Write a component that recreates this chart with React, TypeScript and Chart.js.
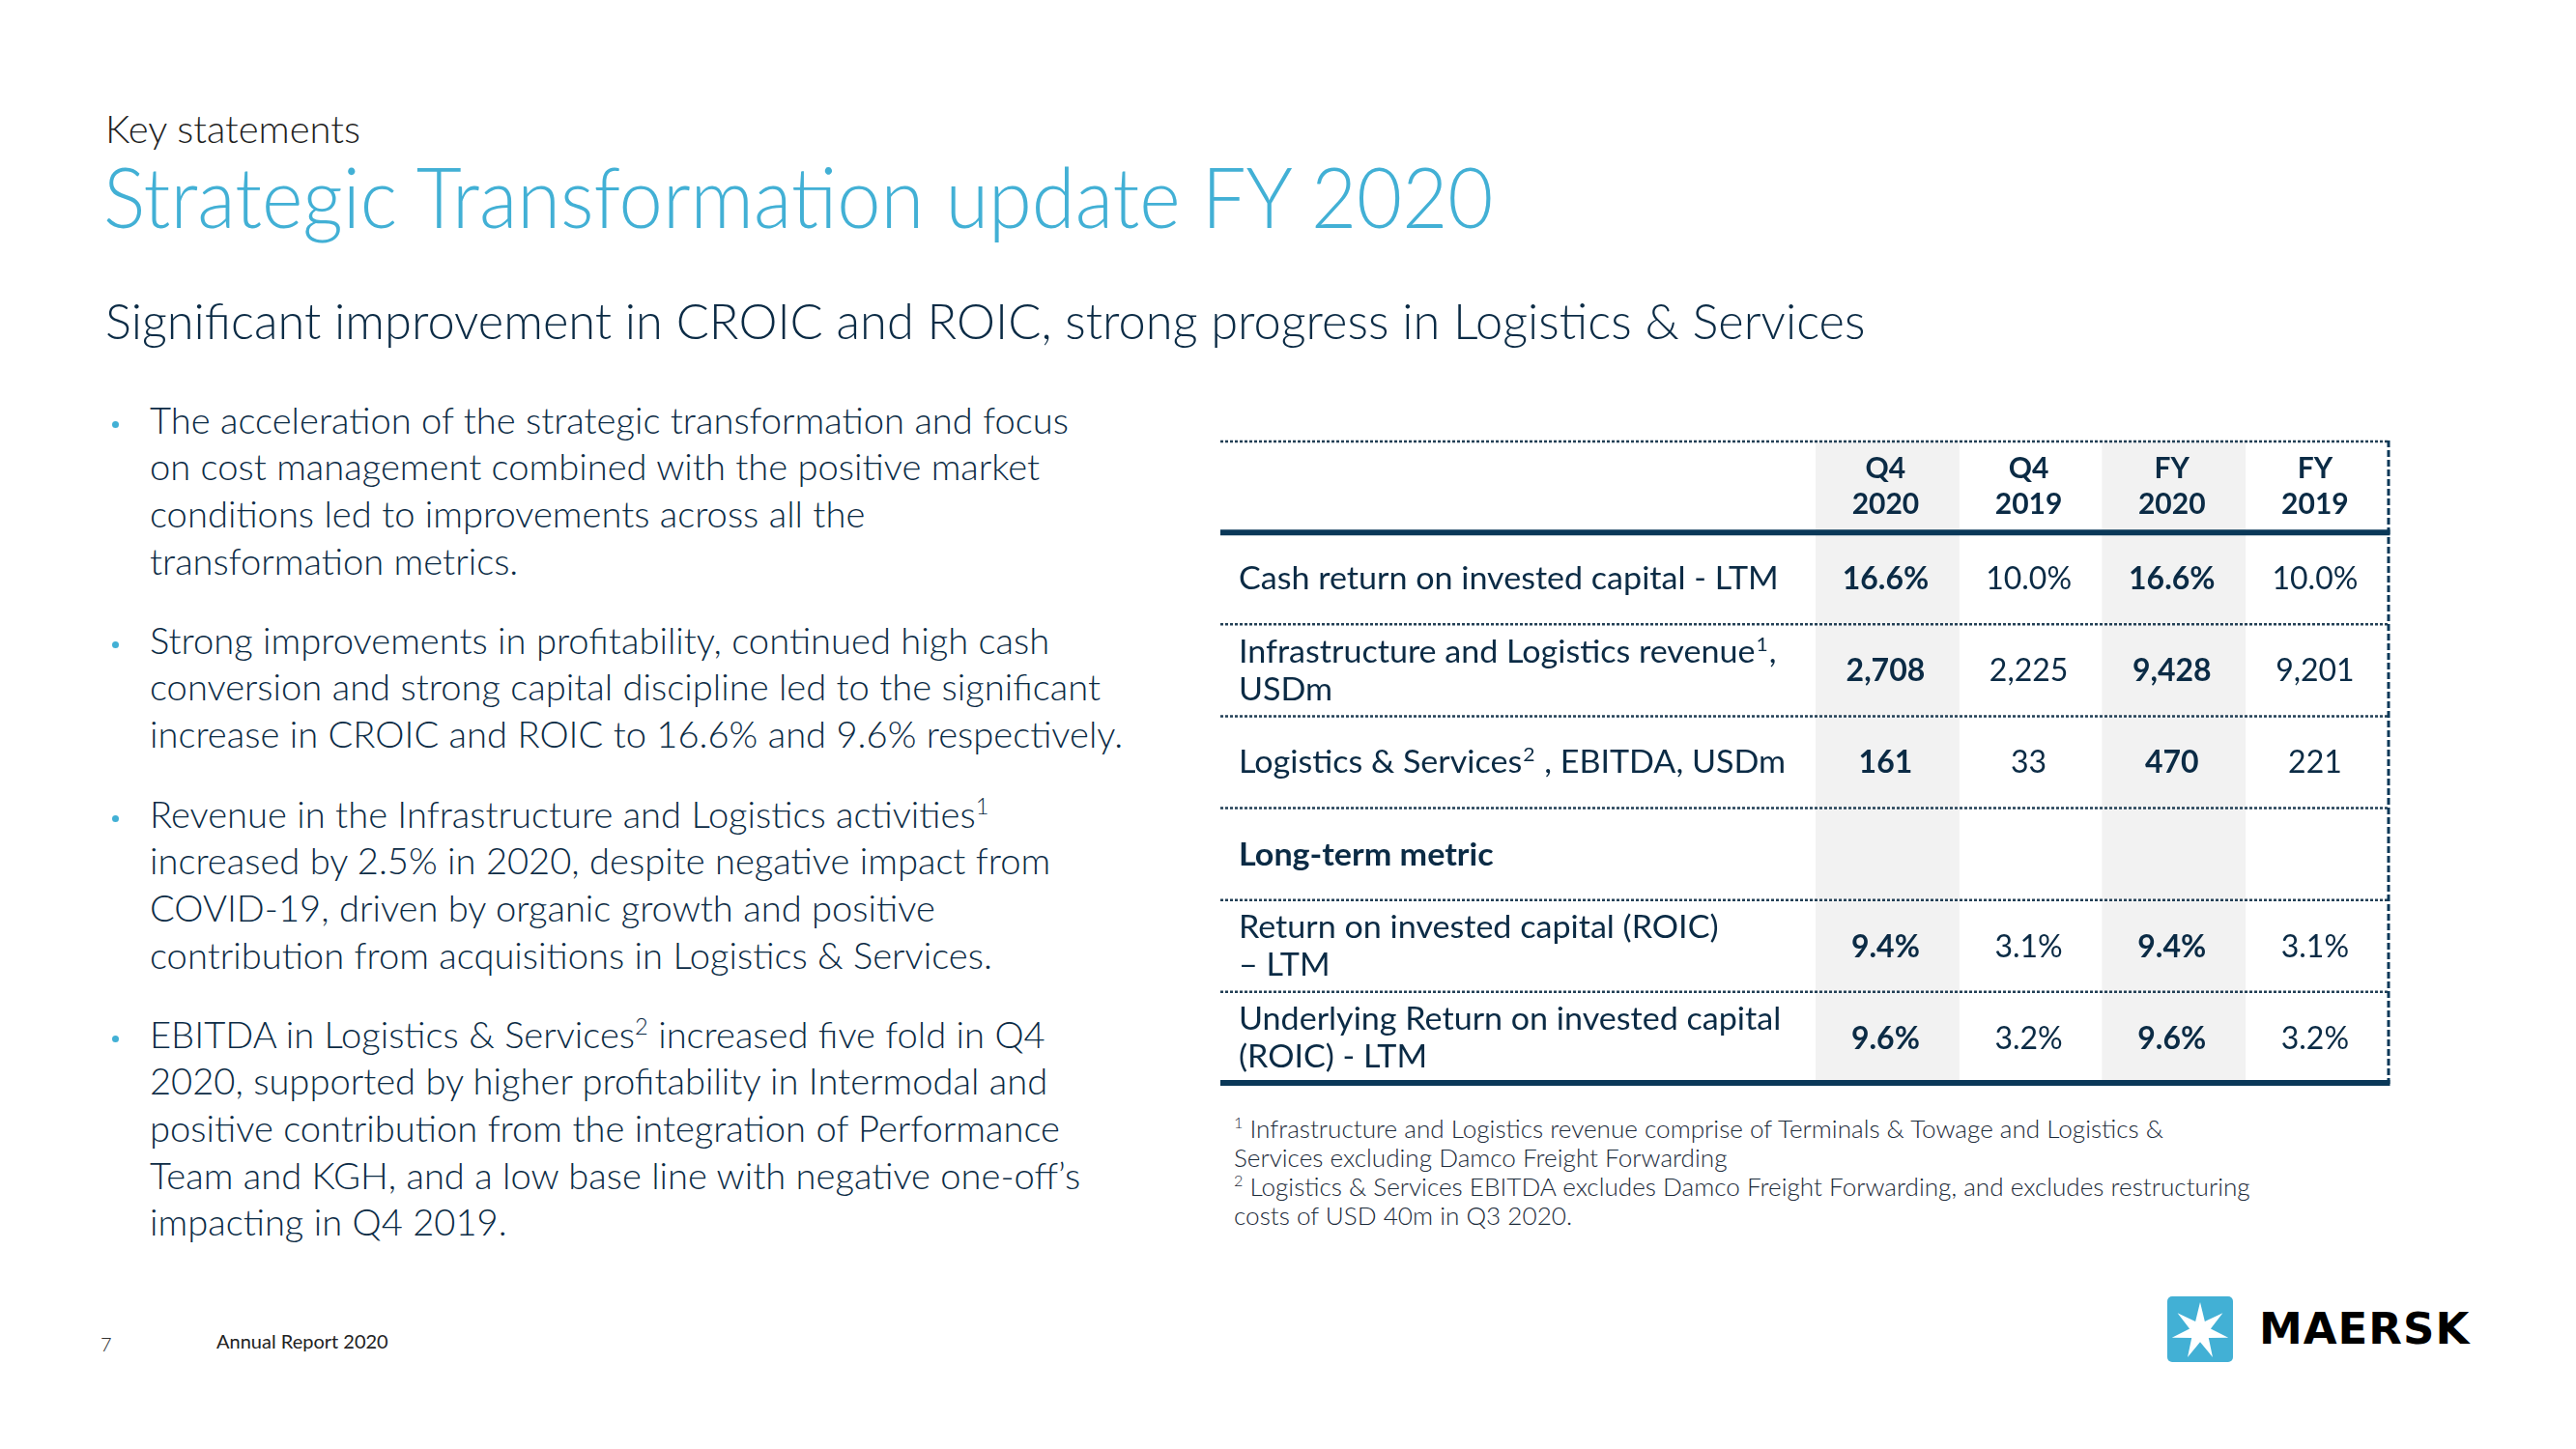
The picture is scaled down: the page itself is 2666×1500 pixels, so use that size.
import React, { useEffect, useRef } from "react";
import { Chart, registerables } from "chart.js";

Chart.register(...registerables);

// ---------- data ----------
const columnPeriods = ["Q4", "Q4", "FY", "FY"];
const columnYears = ["2020", "2019", "2020", "2019"];
const highlightedColumns = [true, false, true, false];

const rowLabels = [
  ["Cash return on invested capital - LTM"],
  ["Infrastructure and Logistics revenue^1,", "USDm"],
  ["Logistics & Services^2 , EBITDA, USDm"],
  ["Long-term metric"],
  ["Return on invested capital (ROIC)", "– LTM"],
  ["Underlying Return on invested capital", "(ROIC) - LTM"],
];
const rowIsSection = [false, false, false, true, false, false];
const rowUnits = ["pct", "usd", "usd", "", "pct", "pct"];

const valuesQ4_2020 = [16.6, 2708, 161, null, 9.4, 9.6];
const valuesQ4_2019 = [10.0, 2225, 33, null, 3.1, 3.2];
const valuesFY_2020 = [16.6, 9428, 470, null, 9.4, 9.6];
const valuesFY_2019 = [10.0, 9201, 221, null, 3.1, 3.2];
const columnValues = [valuesQ4_2020, valuesQ4_2019, valuesFY_2020, valuesFY_2019];

const bullets = [
  [
    "The acceleration of the strategic transformation and focus",
    "on cost management combined with the positive market",
    "conditions led to improvements across all the",
    "transformation metrics.",
  ],
  [
    "Strong improvements in profitability, continued high cash",
    "conversion and strong capital discipline led to the significant",
    "increase in CROIC and ROIC to 16.6% and 9.6% respectively.",
  ],
  [
    "Revenue in the Infrastructure and Logistics activities^1",
    "increased by 2.5% in 2020, despite negative impact from",
    "COVID-19, driven by organic growth and positive",
    "contribution from acquisitions in Logistics & Services.",
  ],
  [
    "EBITDA in Logistics & Services^2 increased five fold in Q4",
    "2020, supported by higher profitability in Intermodal and",
    "positive contribution from the integration of Performance",
    "Team and KGH, and a low base line with negative one-off’s",
    "impacting in Q4 2019.",
  ],
];

const footnotes = [
  "^1 Infrastructure and Logistics revenue comprise of Terminals & Towage and Logistics &",
  "Services excluding Damco Freight Forwarding",
  "^2 Logistics & Services EBITDA excludes Damco Freight Forwarding, and excludes restructuring",
  "costs of USD 40m in Q3 2020.",
];

// ---------- styles ----------
const FONT = "Lato, 'Open Sans', sans-serif";
const NAVY = "#0b2b45";
const LINE_NAVY = "#0a3858";
const BLUE = "#42b0d5";
const SHADE = "#f2f2f2";

function fmt(v: number | null, unit: string) {
  if (v == null) return "";
  if (unit === "pct") return v.toFixed(1) + "%";
  return v.toLocaleString("en-US");
}

function drawRich(ctx: CanvasRenderingContext2D, text: string, x: number, y: number, size: number, weight: number) {
  const parts = text.split(/\^(\d)/);
  let cx = x;
  parts.forEach((p, i) => {
    if (!p) return;
    if (i % 2 === 1) {
      ctx.font = `${weight} ${size * 0.62}px ${FONT}`;
      ctx.fillText(p, cx + 1, y - size * 0.38);
      cx += ctx.measureText(p).width + 2;
    } else {
      ctx.font = `${weight} ${size}px ${FONT}`;
      ctx.fillText(p, cx, y);
      cx += ctx.measureText(p).width;
    }
  });
}

function rich(text: string) {
  const parts = text.split(/\^(\d)/);
  return parts.map((p, i) =>
    i % 2 === 1 ? (
      <span key={i} style={{ fontSize: "0.62em", position: "relative", top: "-0.62em", lineHeight: 0 }}>
        {p}
      </span>
    ) : (
      <span key={i}>{p}</span>
    )
  );
}

const LABEL_SIZE = 32;
const LABEL_STRETCH = 1.065;
const VALUE_SIZE = 32;

const tablePlugin = {
  id: "tableDecor",
  afterDatasetsDraw(chart: any) {
    const { ctx, chartArea: a, scales } = chart;
    const x = scales.x;
    const y = scales.y;
    const nRows = y.getLabels().length;
    const band = y.getPixelForValue(1) - y.getPixelForValue(0);
    const boundary = (i: number) => y.getPixelForValue(i) - band / 2;

    ctx.save();
    const dotted = (yy: number) => {
      ctx.beginPath();
      ctx.setLineDash([3, 2]);
      ctx.lineWidth = 2.5;
      ctx.strokeStyle = "#223f55";
      ctx.moveTo(a.left, yy);
      ctx.lineTo(a.right, yy);
      ctx.stroke();
    };
    const thick = (yy: number) => {
      ctx.beginPath();
      ctx.setLineDash([]);
      ctx.lineWidth = 6;
      ctx.strokeStyle = LINE_NAVY;
      ctx.moveTo(a.left, yy);
      ctx.lineTo(a.right + 1.5, yy);
      ctx.stroke();
    };
    dotted(a.top + 1);
    for (let i = 2; i < nRows; i++) dotted(boundary(i));
    ctx.beginPath();
    ctx.setLineDash([7, 3]);
    ctx.lineWidth = 3;
    ctx.strokeStyle = LINE_NAVY;
    ctx.moveTo(a.right, a.top);
    ctx.lineTo(a.right, a.bottom);
    ctx.stroke();
    thick(boundary(1));
    thick(a.bottom - 1);

    // header
    ctx.fillStyle = NAVY;
    ctx.textAlign = "center";
    ctx.textBaseline = "alphabetic";
    const hs = 30;
    columnPeriods.forEach((p, c) => {
      const cx = x.getPixelForValue(c + 0.5);
      const cy = y.getPixelForValue(0);
      ctx.font = `700 ${hs}px ${FONT}`;
      ctx.fillText(p, cx - 2, cy - 19 + hs * 0.358);
      ctx.fillText(columnYears[c], cx - 2, cy + 18 + hs * 0.358);
    });

    // rows
    const labelX = x.getPixelForValue(x.min) + 19;
    rowLabels.forEach((lines, r) => {
      const cy = y.getPixelForValue(r + 1);
      ctx.textAlign = "left";
      const w = rowIsSection[r] ? 700 : 400;
      const gap = 39;
      ctx.save();
      ctx.translate(labelX, 0);
      ctx.scale(LABEL_STRETCH, 1);
      lines.forEach((line, li) => {
        const ly = cy + (li - (lines.length - 1) / 2) * gap + LABEL_SIZE * 0.358;
        drawRich(ctx, line, 0, ly, LABEL_SIZE, w);
      });
      ctx.restore();
      ctx.textAlign = "center";
      columnValues.forEach((vals, c) => {
        const txt = fmt(vals[r], rowUnits[r]);
        if (!txt) return;
        ctx.font = `${highlightedColumns[c] ? 700 : 400} ${VALUE_SIZE}px ${FONT}`;
        ctx.fillText(txt, x.getPixelForValue(c + 0.5) - 2, cy + VALUE_SIZE * 0.358);
      });
    });
    ctx.restore();
  },
};

function TableChart() {
  const ref = useRef<HTMLCanvasElement | null>(null);
  useEffect(() => {
    if (!ref.current) return;
    const rowKeys = ["header", ...rowLabels.map((_, i) => "row" + i)];
    const datasets = columnYears
      .map((_, c) => c)
      .filter((c) => highlightedColumns[c])
      .map((c) => ({
        label: columnPeriods[c] + " " + columnYears[c],
        data: rowKeys.map(() => [c, c + 1]),
        backgroundColor: SHADE,
        borderWidth: 0,
        barPercentage: 1,
        categoryPercentage: 1,
        grouped: false,
      }));
    const chart = new Chart(ref.current, {
      type: "bar",
      data: { labels: rowKeys, datasets: datasets as any },
      options: {
        indexAxis: "y",
        responsive: false,
        animation: false,
        events: [],
        layout: { padding: 4 },
        scales: {
          x: { type: "linear", min: -4.16, max: 4, display: false },
          y: { type: "category", display: false, offset: true },
        },
        plugins: { legend: { display: false }, tooltip: { enabled: false } },
      },
      plugins: [tablePlugin],
    });
    return () => chart.destroy();
  }, []);
  return (
    <canvas
      ref={ref}
      width={1217}
      height={674}
      style={{ position: "absolute", left: 1259, top: 452, width: 1217, height: 674 }}
    />
  );
}

function Line({ x, cy, size, lh, weight, color, children, sx }: any) {
  return (
    <div
      style={{
        position: "absolute",
        left: x,
        top: cy - lh / 2,
        fontSize: size,
        lineHeight: lh + "px",
        fontWeight: weight,
        color,
        whiteSpace: "pre",
        fontFamily: FONT,
        transform: sx ? `scaleX(${sx})` : undefined,
        transformOrigin: "left center",
      }}
    >
      {children}
    </div>
  );
}

function Star({ size }: { size: number }) {
  const c = size / 2;
  const R = size * 0.44;
  const r = size * 0.165;
  const pts: string[] = [];
  for (let k = 0; k < 14; k++) {
    const ang = -Math.PI / 2 + (k * Math.PI) / 7;
    const rad = k % 2 === 0 ? R : r;
    pts.push(`${(c + rad * Math.cos(ang)).toFixed(2)},${(c + 2 + rad * Math.sin(ang)).toFixed(2)}`);
  }
  return (
    <svg width={size} height={size} style={{ position: "absolute", left: 0, top: 0 }}>
      <rect x={0} y={0} width={size} height={size} rx={5} fill={BLUE} />
      <polygon points={pts.join(" ")} fill="#ffffff" />
    </svg>
  );
}

export default function App() {
  const bulletStarts = [435, 663, 843, 1071];
  const bulletLH = 48.6;
  const bulletSize = 36.5;
  return (
    <div
      style={{
        position: "fixed",
        left: 0,
        top: 0,
        width: 2666,
        height: 1500,
        background: "#ffffff",
        overflow: "hidden",
        fontFamily: FONT,
      }}
    >
      <Line x={109} cy={133} size={40} lh={56} weight={300} color="#1f1f1f">
        Key statements
      </Line>
      <Line x={107} cy={203} size={86} lh={110} weight={300} color={BLUE} sx={0.945}>
        Strategic Transformation update FY 2020
      </Line>
      <Line x={109} cy={331} size={52} lh={70} weight={300} color={NAVY} sx={0.973}>
        Significant improvement in CROIC and ROIC, strong progress in Logistics &amp; Services
      </Line>

      {bullets.map((lines, b) => (
        <div key={b}>
          <div
            style={{
              position: "absolute",
              left: 116,
              top: bulletStarts[b] + 1,
              width: 7,
              height: 7,
              borderRadius: "50%",
              background: BLUE,
            }}
          />
          {lines.map((ln, i) => (
            <Line
              key={i}
              x={155}
              cy={bulletStarts[b] + i * bulletLH}
              size={bulletSize}
              lh={bulletLH}
              weight={300}
              color={NAVY}
              sx={1.045}
            >
              {rich(ln)}
            </Line>
          ))}
        </div>
      ))}

      <TableChart />

      {footnotes.map((ln, i) => (
        <Line key={i} x={1277} cy={1168 + i * 30} size={25} lh={30} weight={300} color="#1c2b3a" sx={1.045}>
          {rich(ln)}
        </Line>
      ))}

      <Line x={104} cy={1391} size={20} lh={26} weight={300} color="#333333">
        7
      </Line>
      <Line x={224} cy={1388} size={20} lh={26} weight={400} color="#222222">
        Annual Report 2020
      </Line>

      <div style={{ position: "absolute", left: 2243, top: 1342, width: 68, height: 68 }}>
        <Star size={68} />
      </div>
      <div
        style={{
          position: "absolute",
          left: 2338,
          top: 1350,
          height: 52,
          lineHeight: "52px",
          fontSize: 45,
          fontWeight: 900,
          fontFamily: "'DejaVu Sans', sans-serif",
          letterSpacing: 1,
          color: "#000000",
        }}
      >
        MAERSK
      </div>
    </div>
  );
}
